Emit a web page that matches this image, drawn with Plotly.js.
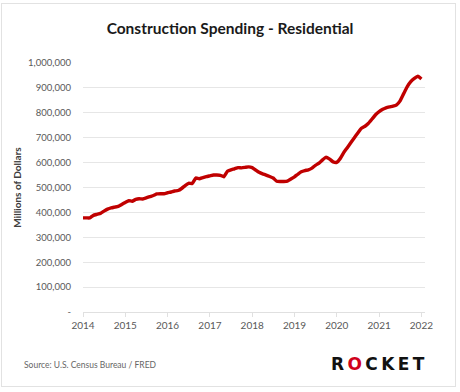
<!DOCTYPE html>
<html>
<head>
<meta charset="utf-8">
<script src="https://cdn.plot.ly/plotly-3.0.1.min.js"></script>
<style>
  html, body { margin: 0; padding: 0; background: #fff; }
  #wrap { position: relative; width: 460px; height: 392px; }
  #chart { width: 460px; height: 392px; }
  #frame { position: absolute; left: 1px; top: 3px; width: 453px; height: 382px;
           border: 1.5px solid #e2e2e2; pointer-events: none; }
</style>
</head>
<body>
<div id="wrap"><div id="chart"></div><div id="frame"></div></div>
<script>
// Monthly residential construction spending (millions of dollars), Jan 2014 - Jan 2022
const startYear = 2014;
const spending = [
  378, 378, 378, 388, 392, 396, 405, 413, 418, 421, 424, 432,
  440, 447, 445, 452, 455, 454, 458, 463, 468, 474, 475, 475,
  479, 482, 486, 488, 496, 508, 517, 516, 538, 535, 540, 544,
  547, 550, 550, 549, 543, 565, 571, 575, 580, 579, 581, 583,
  580, 570, 561, 555, 550, 544, 538, 525, 524, 524, 526, 534,
  543, 554, 563, 568, 571, 578, 589, 598, 611, 622, 614, 603,
  601, 617, 640, 660, 680, 700, 719, 738, 746, 758, 775, 792,
  805, 814, 820, 824, 827, 832, 848, 877, 905, 925, 938, 947,
  936
].map(v => v * 1000);

const dates = spending.map((_, i) => {
  const y = startYear + Math.floor(i / 12);
  const m = (i % 12) + 1;
  return y + '-' + String(m).padStart(2, '0') + '-01';
});

const yTickVals = [0, 100000, 200000, 300000, 400000, 500000, 600000, 700000, 800000, 900000, 1000000];
const yTickText = ['-', '100,000', '200,000', '300,000', '400,000', '500,000', '600,000', '700,000', '800,000', '900,000', '1,000,000'];
const xTickYears = ['2014', '2015', '2016', '2017', '2018', '2019', '2020', '2021', '2022'];

const trace = {
  x: dates,
  y: spending,
  type: 'scatter',
  mode: 'lines',
  line: { color: '#c00000', width: 3.4, shape: 'spline', smoothing: 0.4 },
  hoverinfo: 'skip'
};

const font = 'Lato, "Open Sans", "DejaVu Sans", sans-serif';
const ts = '\u2009';

const layout = {
  width: 460,
  height: 392,
  margin: { l: 83, r: 35, t: 63, b: 80 },
  paper_bgcolor: '#ffffff',
  plot_bgcolor: '#ffffff',
  showlegend: false,
  title: {
    text: '<b>Construction Spending - Residential</b>',
    font: { family: font, size: 15.5, color: '#1a1a1a' },
    x: 0.5, xanchor: 'center', y: 0.928, yanchor: 'middle'
  },
  xaxis: {
    type: 'date',
    range: ['2014-01-01', '2022-02-01'],
    tickvals: xTickYears.map(y => y + '-01-01'),
    ticktext: xTickYears,
    showgrid: false,
    showline: true,
    linecolor: '#e0e0e0',
    linewidth: 1,
    ticks: 'outside',
    ticklen: 4,
    tickcolor: '#e0e0e0',
    tickfont: { family: font, size: 10, color: '#595959' },
    zeroline: false,
    fixedrange: true
  },
  yaxis: {
    range: [0, 1000000],
    tickvals: yTickVals,
    ticktext: yTickText,
    showgrid: true,
    gridcolor: '#e6e6e6',
    gridwidth: 1,
    zeroline: false,
    showline: false,
    ticks: '',
    ticklabelstandoff: 11,
    tickfont: { family: font, size: 9.5, color: '#595959' },
    title: {
      text: '<b>Millions of Dollars</b>',
      font: { family: font, size: 10, color: '#404040' },
      standoff: 4
    },
    fixedrange: true
  },
  annotations: [
    {
      xref: 'paper', yref: 'paper',
      x: -0.178, y: -0.213, xanchor: 'left', yanchor: 'middle',
      text: 'Source: U.S. Census Bureau / FRED',
      showarrow: false,
      font: { family: font, size: 8.5, color: '#666666' }
    },
    {
      xref: 'paper', yref: 'paper',
      x: 1.007, y: -0.207, xanchor: 'right', yanchor: 'middle',
      text: '<b>R' + ts + '<span style="color:#d0021b">O</span>' + ts + 'C' + ts + 'K' + ts + 'E' + ts + 'T</b>',
      showarrow: false,
      font: { family: '"DejaVu Sans", sans-serif', size: 17, color: '#111111' }
    }
  ]
};

Plotly.newPlot('chart', [trace], layout, { displayModeBar: false, staticPlot: true });
</script>
</body>
</html>
